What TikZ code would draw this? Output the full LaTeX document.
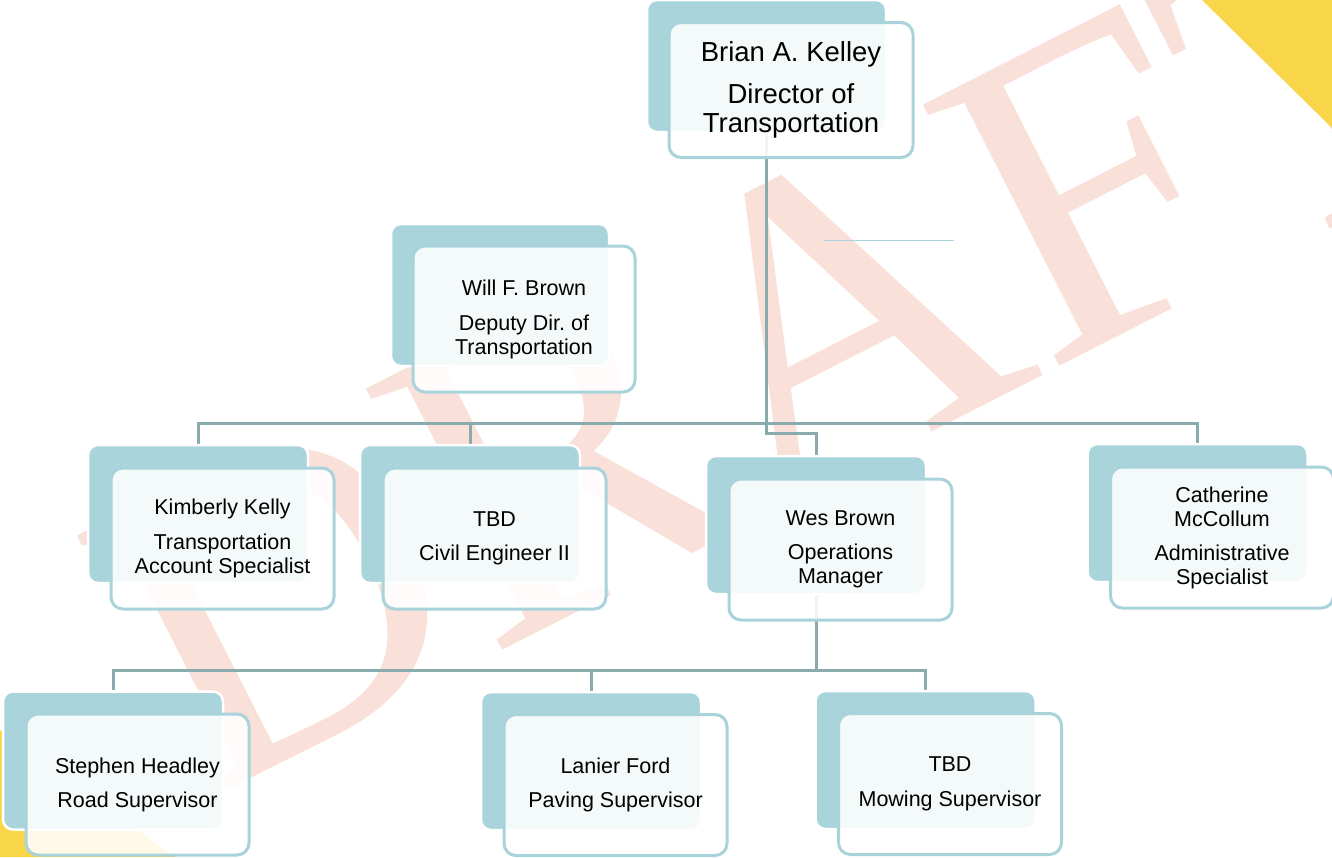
\documentclass[tikz,border=0pt]{standalone}
\usepackage{fontspec}
\setmainfont{Liberation Sans}
\newfontfamily\draftfont{Liberation Serif}
\usetikzlibrary{calc}
\frenchspacing
\definecolor{boxteal}{RGB}{170,212,219}
\definecolor{edgeteal}{RGB}{168,211,218}
\definecolor{linkgray}{RGB}{138,171,174}
\definecolor{draftpink}{RGB}{249,224,216}
\definecolor{cornergold}{RGB}{249,213,74}
\pgfdeclarelayer{paper}
\pgfdeclarelayer{bg}
\pgfsetlayers{paper,bg,main}
\tikzset{
  cardback/.style={rectangle, rounded corners=10pt, fill=boxteal, draw=white, line width=2.5pt, minimum width=220pt, minimum height=138pt, inner sep=0pt},
  cardfront/.style={rectangle, rounded corners=12pt, draw=edgeteal, line width=3pt, fill=white, fill opacity=0.88, text opacity=1, minimum width=223pt, minimum height=141pt, align=center, inner sep=2pt, font=\fontsize{21.5}{24}\selectfont},
  link/.style={draw=linkgray, line width=3pt},
}

\begin{document}
\begin{tikzpicture}[x=1pt,y=-1pt]
\useasboundingbox (0,0) rectangle (1332,857);

% director
\node[cardback, minimum width=239pt, minimum height=132pt] (brianB) at (766.5,66) {};
\node[cardfront, minimum width=244pt, minimum height=135pt, font=\fontsize{27.5}{29}\selectfont] (brian) at ($(brianB)+(24.5,24)$) {Brian A. Kelley\\[13pt]Director of\\Transportation};

% deputy
\node[cardback, minimum width=218pt, minimum height=142pt] (willB) at (500,295) {};
\node[cardfront, minimum width=222pt, minimum height=146pt] (will) at ($(willB)+(24,24)$) {Will F. Brown\\[11pt]Deputy Dir. of\\Transportation};

% second row
\node[cardback] (kimB) at (198,514) {};
\node[cardfront] (kim) at ($(kimB)+(24.5,24.5)$) {Kimberly Kelly\\[11pt]Transportation\\Account Specialist};
\node[cardback] (civB) at (470,514) {};
\node[cardfront] (civ) at ($(civB)+(24.5,24.5)$) {TBD\\[10pt]Civil Engineer II};
\node[cardback] (wesB) at (816,525) {};
\node[cardfront] (wes) at ($(wesB)+(24.5,24.5)$) {Wes Brown\\[10pt]Operations\\Manager};
\node[cardback] (catB) at (1197.5,513) {};
\node[cardfront] (cat) at ($(catB)+(24.5,24.5)$) {Catherine\\McCollum\\[10pt]Administrative\\Specialist};

% supervisors
\node[cardback] (steB) at (113,760.5) {};
\node[cardfront] (ste) at ($(steB)+(24.5,24)$) {Stephen Headley\\[10pt]Road Supervisor};
\node[cardback] (lanB) at (591,761) {};
\node[cardfront] (lan) at ($(lanB)+(24.5,24)$) {Lanier Ford\\[10pt]Paving Supervisor};
\node[cardback] (mowB) at (925.5,760) {};
\node[cardfront] (mow) at ($(mowB)+(24.5,24)$) {TBD\\[11pt]Mowing Supervisor};

\begin{pgfonlayer}{paper}
\fill[white] (0,0) rectangle (1332,857);
\end{pgfonlayer}

\begin{pgfonlayer}{bg}
% watermark
\node[rotate=27, anchor=base west, inner sep=0pt, text=draftpink, font=\draftfont\fontsize{450}{450}\selectfont] (draft) at (199,805) {DRAFT};
% corners
\fill[cornergold] (1202,0) -- (1332,0) -- (1332,128) -- cycle;
\fill[cornergold] (0,730) -- (175,857) -- (0,857) -- cycle;

% links
\coordinate (bus) at (0,423);
\coordinate (bus2) at (0,670);
\draw[link] (brianB.south) -- ++(0,300) -| (wesB.north);
\draw[link] (kimB.north) |- (bus -| catB.north) -- (catB.north);
\draw[link] (civB.north) -- (civB.north |- bus);
\draw[link] (wesB.south) -- (wesB.south |- bus2);
\draw[link] (steB.north) |- (bus2 -| mowB.north) -- (mowB.north);
\draw[link] (lanB.north) -- (lanB.north |- bus2);
% stray rule
\coordinate (stubL) at (824,240);
\coordinate (stubR) at (954,240);
\draw[edgeteal, line width=1pt] (stubL) -- (stubR);
\end{pgfonlayer}
\end{tikzpicture}
\end{document}
